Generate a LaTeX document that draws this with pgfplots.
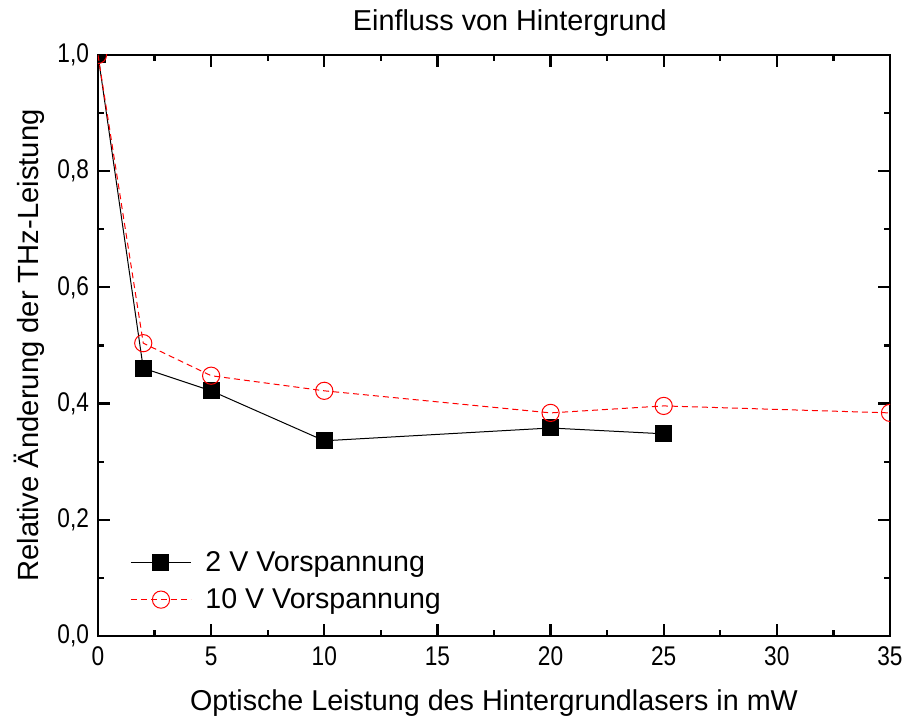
\documentclass[border=0pt]{standalone}
\usepackage{fontspec}
\setmainfont{Liberation Sans}
\newfontfamily\narrowfont[FakeStretch=0.84]{Liberation Sans}
\usepackage{pgfplots}
\pgfplotsset{compat=1.18}

% measurements: power of the background laser (mW) vs. relative THz power
\pgfplotstableread{
x    y
0    1.000
2    0.461
5    0.422
10   0.336
20   0.358
25   0.348
}\lowbias
\pgfplotstableread{
x    y
0    1.000
2    0.504
5    0.448
10   0.422
20   0.384
25   0.396
35   0.384
}\highbias

\begin{document}
\begin{tikzpicture}
\begin{axis}[
  scale only axis,
  width=396pt, height=290.5pt,
  xmin=0, xmax=35, ymin=0, ymax=1.0,
  xtick={0,5,...,35},
  ytick={0,0.2,...,1.0},
  minor x tick num=1,
  minor y tick num=1,
  tick align=inside,
  major tick length=6pt,
  minor tick length=3pt,
  every tick/.style={line width=1.1pt, black},
  axis line style={line width=1.3pt},
  xtick pos=both, ytick pos=both,
  xticklabel pos=bottom, yticklabel pos=left,
  yticklabel style={xshift=-1pt, /pgf/number format/use comma, /pgf/number format/fixed,
    /pgf/number format/fixed zerofill, /pgf/number format/precision=1},
  /pgf/number format/assume math mode=true,
  tick label style={font=\narrowfont\fontsize{13.5}{14}\selectfont},
  xticklabel style={yshift=-2pt},
  title={Einfluss von Hintergrund},
  title style={font=\fontsize{14.4}{16}\selectfont, at={(rel axis cs:0.52,1)}, anchor=center, yshift=10pt},
  xlabel={Optische Leistung des Hintergrundlasers in mW},
  xlabel style={font=\fontsize{14.35}{16}\selectfont, at={(rel axis cs:0.5,0)}, anchor=center, yshift=-33.5pt},
  ylabel={Relative Änderung der THz-Leistung},
  ylabel style={font=\fontsize{14.6}{16}\selectfont, at={(rel axis cs:0,0.5)}, anchor=center, yshift=34.5pt},
  clip=true,
  clip marker paths=true,
  legend style={draw=none, fill=none, at={(rel axis cs:0.038,0.157)}, anchor=north west,
    font=\fontsize{14.3}{16}\selectfont, row sep=3pt, inner sep=1pt,
    nodes={inner xsep=7pt}},
  legend cell align=left,
  legend image code/.code={
    \draw[#1] (0pt,0pt) -- (30pt,0pt);
    \draw[#1, only marks] plot coordinates {(15pt,0pt)};
  },
]
\addplot[black, line width=0.5pt, mark=square*, mark size=4pt, mark options={solid, fill=black}]
  table[x=x, y=y] {\lowbias};
\addlegendentry{2 V Vorspannung}
\addplot[red, line width=0.5pt, dash pattern=on 3pt off 2pt, mark=o, mark size=4.3pt, mark options={solid, fill=white, draw=red, line width=0.5pt}]
  table[x=x, y=y] {\highbias};
\addlegendentry{10 V Vorspannung}
\end{axis}
\pgfresetboundingbox
\path (-49pt,-43pt) rectangle (404pt,318pt);
\end{tikzpicture}
\end{document}
